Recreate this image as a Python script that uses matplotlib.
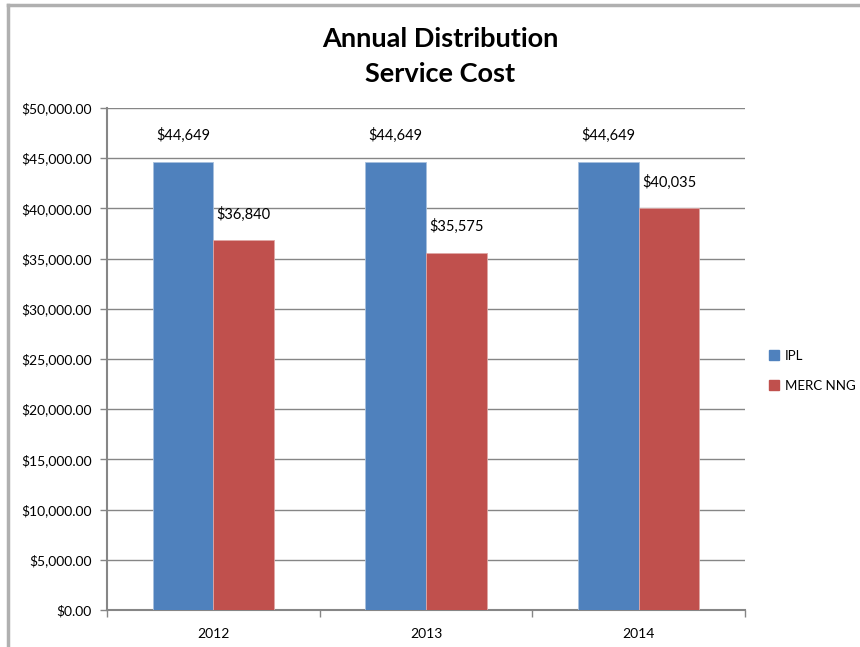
import numpy as np
import matplotlib
matplotlib.use('Agg')
from matplotlib import pyplot as plt
from matplotlib.lines import Line2D
from matplotlib.ticker import FuncFormatter, MultipleLocator

plt.rcParams['font.family'] = ['Lato', 'DejaVu Sans']

years = ['2012', '2013', '2014']
ipl = [44649, 44649, 44649]
merc_nng = [36840, 35575, 40035]
series_names = ['IPL', 'MERC NNG']
colors = ['#4f81bd', '#c0504d']

fig = plt.figure(figsize=(8.6, 6.47), dpi=100)
ax = fig.add_axes([0.1244, 0.0572, 0.7419, 0.7759])

x = np.arange(len(years))
w = 0.285
bars_ipl = ax.bar(x - w / 2, ipl, width=w, color=colors[0], edgecolor='#a7c0de', linewidth=0.6, zorder=3)
bars_merc = ax.bar(x + w / 2, merc_nng, width=w, color=colors[1], edgecolor='#dfa7a6', linewidth=0.6, zorder=3)

# value labels above each bar
for bars, vals in ((bars_ipl, ipl), (bars_merc, merc_nng)):
    for b, v in zip(bars, vals):
        ax.text(b.get_x() + b.get_width() / 2, v + 1850, '${:,}'.format(v),
                ha='center', va='bottom', fontsize=10.5, color='black', zorder=4)

ax.set_xlim(-0.5, len(years) - 0.5)
ax.set_ylim(0, 50000)
ax.yaxis.set_major_locator(MultipleLocator(5000))
ax.yaxis.set_major_formatter(FuncFormatter(lambda v, p: '${:,.2f}'.format(v)))
ax.set_xticks(x)
ax.set_xticklabels(years)
ax.set_xticks(np.arange(-0.5, len(years)), minor=True)
ax.tick_params(axis='x', which='major', length=0, pad=13, labelsize=10)
ax.tick_params(axis='x', which='minor', length=5, color='#868686', width=1)
ax.tick_params(axis='y', length=5, color='#868686', width=1, labelsize=10, pad=6)

ax.grid(axis='y', color='#868686', linewidth=1, zorder=0)
for side in ('top', 'right'):
    ax.spines[side].set_visible(False)
for side in ('left', 'bottom'):
    ax.spines[side].set_color('#868686')
    ax.spines[side].set_linewidth(1.5)

fig.text(0.512, 0.940, 'Annual Distribution', ha='center', va='center', fontsize=19.5, fontweight='bold')
fig.text(0.512, 0.886, 'Service Cost', ha='center', va='center', fontsize=19.5, fontweight='bold')

handles = [Line2D([], [], marker='s', ls='', color=c, markersize=7) for c in colors]
fig.legend(handles, series_names, loc='center left', bbox_to_anchor=(0.879, 0.427),
           frameon=False, fontsize=9.5, handletextpad=0.3, labelspacing=1.35, handlelength=1)

# outer chart frame
fig.add_artist(Line2D([0.009, 1.0], [0.992, 0.992], color='#b0b0b0', linewidth=2.5))
fig.add_artist(Line2D([0.009, 0.009], [0.992, 0.003], color='#b0b0b0', linewidth=2.5))

fig.savefig('out.png', dpi=100)
